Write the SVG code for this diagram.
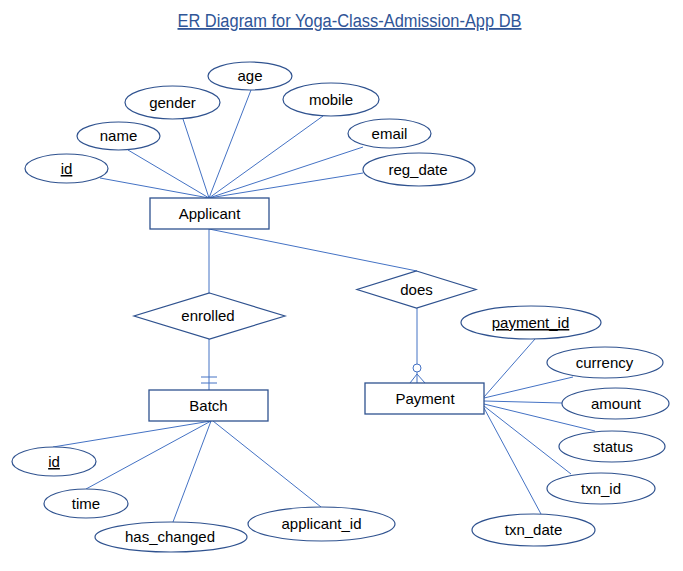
<svg xmlns="http://www.w3.org/2000/svg" width="683" height="571" viewBox="0 0 683 571">
<style>
.bg{fill:#ffffff}
.conn{stroke:#4472C4;stroke-width:1;fill:none}
.ent{fill:#ffffff;stroke:#2F528F;stroke-width:1.3}
.attr{fill:#ffffff;stroke:#2F528F;stroke-width:1.2}
.rel{fill:#ffffff;stroke:#2F528F;stroke-width:1.2}
.lbl{font-family:"Liberation Sans",Arial,sans-serif;font-size:15px;fill:#000000;text-anchor:middle}
.key{text-decoration:underline}
.title{font-family:"Liberation Sans",Arial,sans-serif;font-size:18px;fill:#2F5597;text-anchor:middle;text-decoration:underline}
</style>
<rect class="bg" x="0" y="0" width="683" height="571"/>
<text id="title" class="title" x="349.5" y="27" textLength="344" lengthAdjust="spacingAndGlyphs">ER Diagram for Yoga-Class-Admission-App DB</text>

<g id="connectors">
  <line class="conn" x1="100" y1="178" x2="209" y2="198"/>
  <line class="conn" x1="128" y1="150" x2="209" y2="198"/>
  <line class="conn" x1="183" y1="119" x2="209" y2="198"/>
  <line class="conn" x1="251" y1="90" x2="209" y2="198"/>
  <line class="conn" x1="323" y1="116" x2="209" y2="198"/>
  <line class="conn" x1="363" y1="147" x2="209" y2="198"/>
  <line class="conn" x1="363" y1="173" x2="209" y2="198"/>
  <line class="conn" x1="209" y1="229" x2="209" y2="293"/>
  <line class="conn" x1="209" y1="229" x2="417" y2="271"/>
  <line class="conn" x1="209" y1="339" x2="209" y2="390"/>
  <line class="conn" x1="201" y1="377" x2="217" y2="377"/>
  <line class="conn" x1="201" y1="383" x2="217" y2="383"/>
  <line class="conn" x1="417" y1="308" x2="417" y2="364"/>
  <circle class="conn" cx="417" cy="368" r="4"/>
  <line class="conn" x1="417" y1="372" x2="417" y2="383"/>
  <line class="conn" x1="417" y1="374" x2="410" y2="383"/>
  <line class="conn" x1="417" y1="374" x2="425" y2="383"/>
  <line class="conn" x1="535" y1="339" x2="484" y2="397"/>
  <line class="conn" x1="573" y1="377" x2="484" y2="398"/>
  <line class="conn" x1="562" y1="403" x2="484" y2="401"/>
  <line class="conn" x1="595" y1="431" x2="484" y2="404"/>
  <line class="conn" x1="571" y1="474" x2="484" y2="406"/>
  <line class="conn" x1="541" y1="514" x2="484" y2="408"/>
  <line class="conn" x1="53" y1="447" x2="211" y2="421"/>
  <line class="conn" x1="86" y1="489" x2="211" y2="421"/>
  <line class="conn" x1="173" y1="522" x2="211" y2="421"/>
  <line class="conn" x1="321" y1="507" x2="213" y2="421"/>
</g>

<g id="applicant">
  <rect class="ent" x="150" y="198" width="119" height="31"/>
  <text class="lbl" x="209.5" y="219">Applicant</text>
</g>
<g id="applicant-id">
  <ellipse class="attr" cx="66.5" cy="168.5" rx="41.5" ry="14.5"/>
  <text class="lbl key" x="66.5" y="174">id</text>
</g>
<g id="applicant-name">
  <ellipse class="attr" cx="118.5" cy="136" rx="41.5" ry="14"/>
  <text class="lbl" x="118.5" y="141">name</text>
</g>
<g id="applicant-gender">
  <ellipse class="attr" cx="172.5" cy="102.5" rx="47.5" ry="16.5"/>
  <text class="lbl" x="172.5" y="108">gender</text>
</g>
<g id="applicant-age">
  <ellipse class="attr" cx="250" cy="76" rx="42" ry="14"/>
  <text class="lbl" x="250" y="81">age</text>
</g>
<g id="applicant-mobile">
  <ellipse class="attr" cx="331" cy="99.5" rx="48" ry="16.5"/>
  <text class="lbl" x="331" y="105">mobile</text>
</g>
<g id="applicant-email">
  <ellipse class="attr" cx="389.5" cy="133.5" rx="41.5" ry="14.5"/>
  <text class="lbl" x="389.5" y="139">email</text>
</g>
<g id="applicant-reg_date">
  <ellipse class="attr" cx="419" cy="169.5" rx="56" ry="16.5"/>
  <text class="lbl" x="418" y="175">reg_date</text>
</g>

<g id="enrolled">
  <polygon class="rel" points="209.5,293 285,316 209.5,339 134,316"/>
  <text class="lbl" x="208" y="321">enrolled</text>
</g>
<g id="does">
  <polygon class="rel" points="416.5,271 476,289.5 416.5,308 357,289.5"/>
  <text class="lbl" x="416.5" y="295">does</text>
</g>

<g id="batch">
  <rect class="ent" x="149" y="390" width="119" height="31"/>
  <text class="lbl" x="208.5" y="411">Batch</text>
</g>
<g id="batch-id">
  <ellipse class="attr" cx="54" cy="461.5" rx="42" ry="14.5"/>
  <text class="lbl key" x="54" y="467">id</text>
</g>
<g id="batch-time">
  <ellipse class="attr" cx="86" cy="503.5" rx="42" ry="14.5"/>
  <text class="lbl" x="86" y="509">time</text>
</g>
<g id="batch-has_changed">
  <ellipse class="attr" cx="171" cy="537" rx="76" ry="15"/>
  <text class="lbl" x="170" y="542">has_changed</text>
</g>
<g id="batch-applicant_id">
  <ellipse class="attr" cx="321.5" cy="524" rx="73.5" ry="17"/>
  <text class="lbl" x="321.5" y="529">applicant_id</text>
</g>

<g id="payment">
  <rect class="ent" x="365" y="383" width="119" height="31"/>
  <text class="lbl" x="425" y="404">Payment</text>
</g>
<g id="payment-payment_id">
  <ellipse class="attr" cx="531" cy="322.5" rx="70" ry="16.5"/>
  <text class="lbl key" x="530.5" y="328">payment_id</text>
</g>
<g id="payment-currency">
  <ellipse class="attr" cx="605" cy="362.5" rx="58" ry="15.5"/>
  <text class="lbl" x="604.5" y="368">currency</text>
</g>
<g id="payment-amount">
  <ellipse class="attr" cx="615.5" cy="403.5" rx="53.5" ry="15.5"/>
  <text class="lbl" x="616" y="409">amount</text>
</g>
<g id="payment-status">
  <ellipse class="attr" cx="612" cy="446.5" rx="53" ry="15.5"/>
  <text class="lbl" x="613" y="452">status</text>
</g>
<g id="payment-txn_id">
  <ellipse class="attr" cx="601" cy="488.5" rx="54" ry="15.5"/>
  <text class="lbl" x="601" y="494">txn_id</text>
</g>
<g id="payment-txn_date">
  <ellipse class="attr" cx="533.5" cy="530" rx="61.5" ry="16"/>
  <text class="lbl" x="533.5" y="535">txn_date</text>
</g>
</svg>
